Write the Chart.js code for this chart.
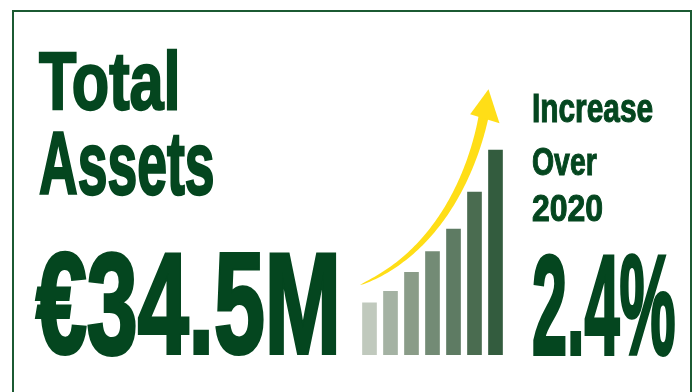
<!DOCTYPE html>
<html>
<head>
<meta charset="utf-8">
<title>Total Assets</title>
<script src="https://cdn.jsdelivr.net/npm/chart.js@4/dist/chart.umd.min.js"></script>
<style>
  html, body { margin: 0; padding: 0; background: #ffffff; }
  #stage { position: relative; width: 696px; height: 392px; overflow: hidden; background: #ffffff; }
  #frame { position: absolute; left: 12px; top: 10px; width: 680px; height: 420px;
           box-sizing: border-box; border: 2px solid #1b5a32; }
  #chart { position: absolute; left: 0; top: 0; }
  .label { position: absolute; white-space: nowrap; color: #04461f; font-weight: bold;
           font-family: "Liberation Sans", Arial, sans-serif; transform-origin: 0 0;
           paint-order: stroke fill; }
</style>
</head>
<body>
<div id="stage">
  <div id="frame"></div>
  <canvas id="chart" width="696" height="392"></canvas>
  <div class="label" id="title1"></div>
  <div class="label" id="title2"></div>
  <div class="label" id="headline"></div>
  <div class="label" id="cmp1"></div>
  <div class="label" id="cmp2"></div>
  <div class="label" id="cmp3"></div>
  <div class="label" id="growth"></div>
</div>
<script>
// ---- data ----
const years = ['2015', '2016', '2017', '2018', '2019', '2020', '2021'];
const assetsM = [8.8, 10.7, 13.9, 17.4, 21.2, 27.4, 34.5];   // € millions
const titleLines = ['Total', 'Assets'];
const compareLines = ['Increase', 'Over', '2020'];
const growthPct = 2.4;

// ---- styling ----
const barShades = ['#c0c9bd', '#a4b2a3', '#8a9c88', '#738b75', '#5e7b63', '#4a6c50', '#335c3e'];
const ARROW_COLOR = '#ffde17';
const TEXT_COLOR = '#04461f';
const FAMILY = '"Liberation Sans", Arial, sans-serif';
const HEAVY = 0.028;   // extra stroke weight, as a fraction of the font size

// Rising arrow above the bars, given in (category index, value) space
const growthArrow = {
  id: 'growthArrow',
  afterDatasetsDraw(chart) {
    const { ctx, scales: { x, y } } = chart;
    const P = ([i, v]) => [x.getPixelForValue(i), y.getPixelForValue(v)];
    const c0 = P([-0.455, 11.78]), c1 = P([3.60, 17.67]),
          c2 = P([5.03, 32.82]),   c3 = P([5.437, 40.22]);
    const tip = P([5.666, 44.72]), hl = P([4.793, 40.51]), hr = P([6.191, 38.99]);
    const maxW = 10;
    const left = [], right = [];
    const N = 80;
    for (let k = 0; k <= N; k++) {
      const t = k / N, u = 1 - t;
      const bx = u*u*u*c0[0] + 3*u*u*t*c1[0] + 3*u*t*t*c2[0] + t*t*t*c3[0];
      const by = u*u*u*c0[1] + 3*u*u*t*c1[1] + 3*u*t*t*c2[1] + t*t*t*c3[1];
      const dx = 3*u*u*(c1[0]-c0[0]) + 6*u*t*(c2[0]-c1[0]) + 3*t*t*(c3[0]-c2[0]);
      const dy = 3*u*u*(c1[1]-c0[1]) + 6*u*t*(c2[1]-c1[1]) + 3*t*t*(c3[1]-c2[1]);
      const len = Math.hypot(dx, dy) || 1;
      const nx = -dy / len, ny = dx / len;
      const hw = maxW * Math.sqrt(t) / 2;
      left.push([bx + nx*hw, by + ny*hw]);
      right.push([bx - nx*hw, by - ny*hw]);
    }
    ctx.save();
    ctx.fillStyle = ARROW_COLOR;
    ctx.beginPath();
    ctx.moveTo(left[0][0], left[0][1]);
    left.forEach(p => ctx.lineTo(p[0], p[1]));
    right.reverse().forEach(p => ctx.lineTo(p[0], p[1]));
    ctx.closePath();
    ctx.fill();
    ctx.beginPath();
    ctx.moveTo(tip[0], tip[1]);
    ctx.lineTo(hr[0], hr[1]);
    ctx.lineTo(hl[0], hl[1]);
    ctx.closePath();
    ctx.fill();
    ctx.restore();
  }
};

new Chart(document.getElementById('chart'), {
  type: 'bar',
  data: {
    labels: years,
    datasets: [{
      data: assetsM,
      backgroundColor: barShades,
      borderWidth: 0,
      barThickness: 14
    }]
  },
  options: {
    responsive: false,
    animation: false,
    layout: { padding: { left: 359, right: 190, top: 117.3, bottom: 37 } },
    plugins: { legend: { display: false }, tooltip: { enabled: false } },
    scales: {
      x: { display: false, offset: true, grid: { display: false } },
      y: { display: false, min: 0, max: 40 }
    }
  },
  plugins: [growthArrow]
});

// ---- text blocks: condensed heavy type fitted to an ink box [left, top, right, bottom] ----
const mctx = document.createElement('canvas').getContext('2d');
function fitLabel(id, text, box) {
  const el = document.getElementById(id);
  el.textContent = text;
  const [l, t, r, b] = box;
  mctx.font = `bold 100px ${FAMILY}`;
  let m = mctx.measureText(text);
  const h100 = m.actualBoundingBoxAscent + m.actualBoundingBoxDescent;
  const fs = (b - t) / (h100 / 100 + HEAVY);
  const sw = HEAVY * fs;
  mctx.font = `bold ${fs}px ${FAMILY}`;
  m = mctx.measureText(text);
  const sx = (r - l) / (m.actualBoundingBoxLeft + m.actualBoundingBoxRight + sw);
  const baseline = t + sw / 2 + m.actualBoundingBoxAscent;
  const asc = m.fontBoundingBoxAscent, desc = m.fontBoundingBoxDescent;
  el.style.fontSize = fs + 'px';
  el.style.lineHeight = (asc + desc) + 'px';
  el.style.top = (baseline - asc) + 'px';
  el.style.left = (l + (m.actualBoundingBoxLeft + sw / 2) * sx) + 'px';
  el.style.transform = `scaleX(${sx})`;
  el.style.webkitTextStroke = sw + 'px ' + TEXT_COLOR;
}

const latest = assetsM[assetsM.length - 1];
fitLabel('title1', titleLines[0], [38, 49, 177, 112]);
fitLabel('title2', titleLines[1], [39, 131, 213, 196]);
fitLabel('headline', '€' + latest.toFixed(1) + 'M', [35, 250, 337, 356]);
fitLabel('cmp1', compareLines[0], [533, 93, 653, 123]);
fitLabel('cmp2', compareLines[1], [532, 147, 597, 175]);
fitLabel('cmp3', compareLines[2], [532, 194, 602, 221]);
fitLabel('growth', growthPct.toFixed(1) + '%', [533, 253, 675, 357]);
</script>
</body>
</html>
